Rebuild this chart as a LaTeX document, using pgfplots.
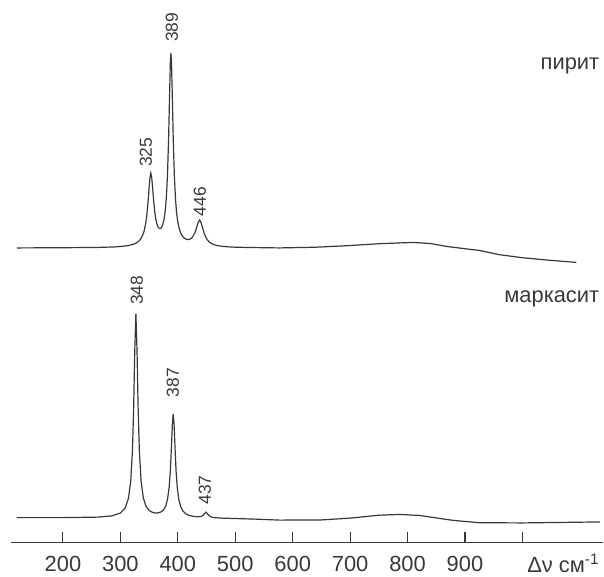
\documentclass[border=0pt]{standalone}
\usepackage{fontspec}
\setmainfont{Liberation Sans}
\usepackage{pgfplots}
\pgfplotsset{compat=1.18}
\definecolor{ink}{gray}{0.22}
\begin{document}
\begin{tikzpicture}
\begin{axis}[
 scale only axis, width=592.8bp, height=543bp,
 xmin=110, xmax=1141, ymin=1, ymax=544,
 axis x line*=bottom, axis y line=none,
 axis line style={ink, line width=1.2bp},
 xtick={200,300,400,500,600,700,800,900,1000},
 xticklabels={200,300,400,500,600,700,800,900,{}},
 tick align=inside, major tick length=10bp,
 tick style={ink, line width=1.1bp},
 xticklabel style={font=\fontsize{22}{26}\selectfont, text=ink, anchor=north, inner sep=0pt, yshift=-14bp},
 /pgf/number format/assume math mode=true,
 clip=false,
]
% pyrite
\addplot[ink, line width=1.2bp] table {
x y
120 295.8
200 296.0
260 296.3
290 296.8
305 297.5
315 298.3
322 299.3
328 300.8
333 303.0
337 306.2
341 312.0
344 319.9
346 328.4
348 340.6
350 355.9
351.5 366.2
353 370.7
354.5 366.7
356 357.0
358 342.5
360 331.1
362 323.6
364 318.9
366 316.3
368 315.2
370 315.3
372 316.6
374 319.5
376 324.4
378 332.4
380 345.7
382 368.3
384 406.3
385.5 445.5
387 481.7
388 490.7
389 481.6
390.5 445.1
392 405.6
394 367.2
396 344.2
398 330.3
400 321.7
403 313.9
406 309.4
410 306.2
414 304.6
418 304.1
422 304.8
426 306.9
430 311.4
433 316.8
435.5 321.6
438 323.7
440.5 321.2
443 316.1
446 310.2
450 305.0
455 301.5
462 299.2
470 298.0
480 297.2
500 296.5
540 296.1
577 295.8
640 296.5
694 298.0
750 300.0
809 301.3
840 300.2
868 297.3
900 295.0
925 293.3
960 289.0
1000 286.0
1050 283.3
1094 281.3
};
% marcasite
\addplot[ink, line width=1.2bp] table {
x y
120 25.8
200 25.8
260 26.3
285 27.5
300 30.4
308 35.1
314 44.9
318 62.2
321 92.9
323 132.8
325 192.2
327 230.0
329 192.2
331 133.0
333 93.1
336 62.5
340 45.4
345 36.8
350 33.1
355 31.3
360 30.5
365 30.5
370 31.3
375 33.5
379 37.5
382 43.8
385 56.6
387 72.5
389 97.9
390.5 119.3
392 129.7
393.5 119.2
395 97.7
397 72.2
399 56.1
402 43.1
405 36.7
409 32.3
414 29.6
420 28.0
427 27.1
434 26.7
440 26.9
444 28.0
446.5 29.8
449 31.3
451.5 29.6
454 28.1
458 26.4
465 25.7
480 25.2
500 24.9
540 24.2
577 23.3
650 23.5
700 25.3
750 28.2
786 29.0
820 28.0
850 25.5
880 23.0
925 20.7
1000 20.5
1070 21.0
1135 21.5
};
\begin{scope}[every node/.style={text=ink}]
\node[rotate=90, font=\fontsize{17.5}{20}\selectfont] at (axis cs:344.3,391.5) {325};
\node[rotate=90, font=\fontsize{17.5}{20}\selectfont] at (axis cs:389.6,516.5) {389};
\node[rotate=90, font=\fontsize{17.5}{20}\selectfont] at (axis cs:438.3,342) {446};
\node[rotate=90, font=\fontsize{17.5}{20}\selectfont] at (axis cs:328.7,253.5) {348};
\node[rotate=90, font=\fontsize{17.5}{20}\selectfont] at (axis cs:391.3,161) {387};
\node[rotate=90, font=\fontsize{17.5}{20}\selectfont] at (axis cs:447,53.5) {437};
\node[anchor=base east, inner sep=0pt, font=\fontsize{22}{26}\selectfont] at (axis cs:1134,474) {пирит};
\node[anchor=base east, inner sep=0pt, font=\fontsize{22}{26}\selectfont] at (axis cs:1134,241) {маркасит};
\node[anchor=base, inner sep=0pt, font=\fontsize{22}{26}\selectfont] at (axis cs:1071,-29) {Δν см\textsuperscript{-1}};
\end{scope}
\path (axis cs:90.4,-33) rectangle (axis cs:1141,544);
\end{axis}
\end{tikzpicture}
\end{document}
